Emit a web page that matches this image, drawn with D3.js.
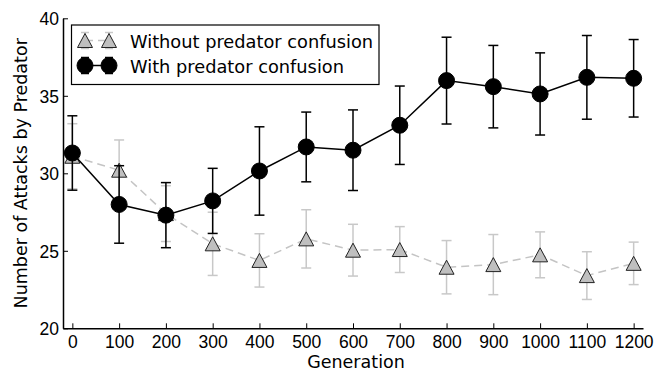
<!DOCTYPE html>
<html>
<head>
<meta charset="utf-8">
<script src="https://cdn.jsdelivr.net/npm/d3@7"></script>
<style>
  body { margin: 0; background: #fff; }
  svg { font-family: "DejaVu Sans", sans-serif; }
  .tick text { font-size: 17.5px; fill: #000; }
</style>
</head>
<body>
<div class="chart-container"></div>
<script>
var generations = [0, 100, 200, 300, 400, 500, 600, 700, 800, 900, 1000, 1100, 1200];
var withMean = [31.31, 27.99, 27.3, 28.22, 30.15, 31.7, 31.49, 33.1, 35.98, 35.59, 35.12, 36.19, 36.13];
var withErr = [2.4, 2.5, 2.1, 2.1, 2.85, 2.25, 2.6, 2.53, 2.8, 2.66, 2.65, 2.7, 2.5];
var withoutMean = [31.1, 30.2, 27.4, 25.45, 24.38, 25.77, 25.04, 25.08, 23.94, 24.11, 24.74, 23.4, 24.19];
var withoutErr = [2.1, 1.95, 1.8, 2.04, 1.72, 1.88, 1.67, 1.48, 1.72, 1.94, 1.48, 1.54, 1.37];
var yTicks = [20, 25, 30, 35, 40];
var seriesNames = ['Without predator confusion', 'With predator confusion'];

var totalWidth = 659;
var totalHeight = 371;
var margin = { top: 18.3, left: 63, right: 16, bottom: 42.7 };
var width = totalWidth - margin.left - margin.right;
var height = totalHeight - margin.top - margin.bottom;

var svg = d3.select('.chart-container').append('svg')
  .attr('width', totalWidth)
  .attr('height', totalHeight);

var x = d3.scaleLinear().domain([-20, 1220]).range([0, width]);
var y = d3.scaleLinear().domain([20, 40]).range([height, 0]);

var g = svg.append('g')
  .attr('transform', `translate(${margin.left},${margin.top})`);

// axes, ticks pointing inward
var gX = g.append('g')
  .attr('transform', `translate(0,${height})`)
  .call(d3.axisBottom(x).tickValues(generations).tickFormat(d3.format('d'))
    .tickSizeInner(-5).tickSizeOuter(0).tickPadding(7.6));
var gY = g.append('g')
  .call(d3.axisLeft(y).tickValues(yTicks).tickSizeInner(-5).tickSizeOuter(0).tickPadding(4));
[gX, gY].forEach(a => {
  a.select('.domain').attr('stroke', '#000').attr('stroke-width', 1.5);
  a.selectAll('.tick line').attr('stroke', '#000').attr('stroke-width', 1);
});
gY.selectAll('.tick text').attr('dy', '0.36em');

function series(rows, opt) {
  var s = g.append('g');
  var line = d3.line().x(d => x(d.gen)).y(d => y(d.mean));
  s.append('path').datum(rows)
    .attr('fill', 'none')
    .attr('stroke', opt.lineColor)
    .attr('stroke-width', 1.5)
    .attr('stroke-dasharray', opt.dash)
    .attr('d', line);
  var eb = s.selectAll('.eb').data(rows).enter().append('g')
    .attr('stroke', opt.errColor).attr('stroke-width', 1.5);
  eb.append('line')
    .attr('x1', d => x(d.gen)).attr('x2', d => x(d.gen))
    .attr('y1', d => y(d.mean - d.err)).attr('y2', d => y(d.mean + d.err));
  [-1, 1].forEach(sg => {
    eb.append('line')
      .attr('x1', d => x(d.gen) - 5).attr('x2', d => x(d.gen) + 5)
      .attr('y1', d => y(d.mean + sg * d.err)).attr('y2', d => y(d.mean + sg * d.err));
  });
  s.selectAll('.mk').data(rows).enter().append('path')
    .attr('transform', d => `translate(${x(d.gen)},${y(d.mean)})`)
    .attr('d', opt.marker)
    .attr('fill', opt.fill)
    .attr('stroke', opt.stroke)
    .attr('stroke-width', 1);
}

var tri = 'M0,-7L7.5,7L-7.5,7Z';
var circ = d3.symbol(d3.symbolCircle, Math.PI * 64)();

var withoutRows = generations.map((gen, i) => ({ gen: gen, mean: withoutMean[i], err: withoutErr[i] }));
var withRows = generations.map((gen, i) => ({ gen: gen, mean: withMean[i], err: withErr[i] }));

var styles = [
  { lineColor: '#c4c4c4', dash: '8,5', errColor: '#c8c8c8', marker: tri, fill: '#bfbfbf', stroke: '#222' },
  { lineColor: '#000', dash: null, errColor: '#000', marker: circ, fill: '#000', stroke: '#000' }
];

series(withoutRows, styles[0]);
series(withRows, styles[1]);

// legend
var leg = svg.append('g');
leg.append('rect')
  .attr('x', 71.5).attr('y', 25).attr('width', 307.5).attr('height', 59.5)
  .attr('fill', '#fff').attr('stroke', '#000').attr('stroke-width', 1.2);
seriesNames.forEach((name, i) => {
  var st = styles[i];
  var ly = 40.5 + i * 25;
  var row = leg.append('g');
  row.append('line')
    .attr('x1', 85).attr('x2', 109).attr('y1', ly).attr('y2', ly)
    .attr('stroke', st.lineColor).attr('stroke-width', 1.5).attr('stroke-dasharray', st.dash);
  [85, 109].forEach(mx => {
    row.append('line').attr('x1', mx).attr('x2', mx).attr('y1', ly - 8).attr('y2', ly + 8)
      .attr('stroke', st.errColor).attr('stroke-width', 1.5);
    [-8, 8].forEach(off => {
      row.append('line').attr('x1', mx - 4).attr('x2', mx + 4).attr('y1', ly + off).attr('y2', ly + off)
        .attr('stroke', st.errColor).attr('stroke-width', 1.5);
    });
    row.append('path').attr('transform', `translate(${mx},${ly})`)
      .attr('d', st.marker).attr('fill', st.fill).attr('stroke', st.stroke).attr('stroke-width', 1);
  });
  row.append('text').attr('x', 130).attr('y', ly + 7.8)
    .attr('font-size', 17.8).text(name);
});

// axis labels
svg.append('text')
  .attr('text-anchor', 'middle')
  .attr('font-size', 17.5)
  .attr('transform', `translate(356,367.7)`)
  .text('Generation');
svg.append('text')
  .attr('text-anchor', 'middle')
  .attr('font-size', 17.5)
  .attr('transform', `translate(27,${margin.top + height / 2}) rotate(-90)`)
  .text('Number of Attacks by Predator');
</script>
</body>
</html>
